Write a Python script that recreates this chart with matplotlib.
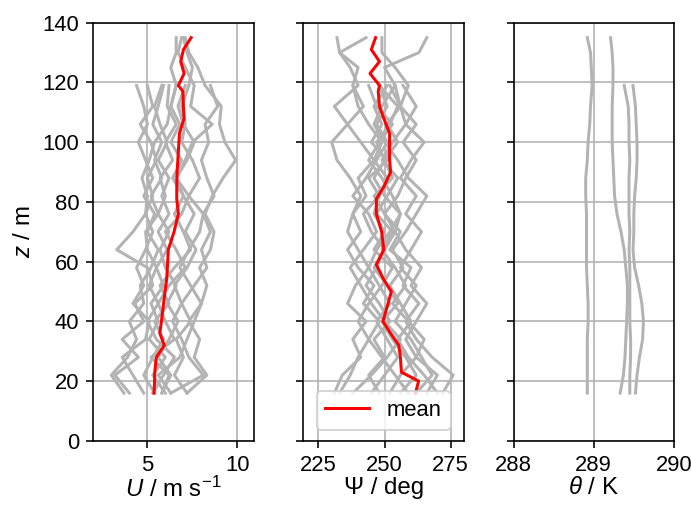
import matplotlib
matplotlib.use("Agg")
import matplotlib.pyplot as plt

plt.rcParams["font.family"] = ["Liberation Sans", "DejaVu Sans"]
plt.rcParams["font.size"] = 11
plt.rcParams["axes.labelsize"] = 12
plt.rcParams["mathtext.fontset"] = "custom"
plt.rcParams["mathtext.rm"] = "Liberation Sans"
plt.rcParams["mathtext.it"] = "Liberation Sans:italic"

# measurement heights (m); short profiles stop at 119 m
Z = [16, 22, 28, 34, 40, 46, 52, 58, 64, 70, 76, 82, 88, 94, 100, 106, 112, 119, 125, 130, 135]

# wind speed profiles (m/s)
U_PROFILES = [
    [7.2, 8.3, 7.6, 7.9, 7.3, 8.0, 8.3, 7.9, 8.5, 8.7, 8.2, 8.6, 9.2, 9.9, 9.3, 9.0, 9.1, 8.2, 7.8, 7.3, 7.1],
    [4.0, 3.2, 4.5, 3.6, 4.8, 4.3, 5.3, 5.0, 3.3, 4.2, 4.9, 5.0, 4.7, 5.1, 5.4, 6.1, 6.3, 6.6, 6.3, 6.6, 6.6],
    [5.8, 6.2, 5.2, 6.5, 6.0, 5.6, 6.2, 7.1, 6.6, 6.0, 6.9, 7.3, 6.6, 7.1, 7.5, 8.6, 7.4, 7.6, 7.1, 6.7, 6.9],
    [6.3, 5.6, 6.8, 7.2, 7.6, 8.0, 7.4, 6.8, 7.3, 7.9, 8.1, 7.3, 7.9, 7.5, 6.9, 7.1, 6.9, 7.3, 7.5, 7.2, 7.0],
    [3.7, 3.0, 3.9, 4.4, 4.0, 4.8, 4.6, 5.2, 5.6, 5.0, 5.4, 4.8, 5.3, 4.9, 4.5, 5.0, 4.8, 4.4],
    [4.8, 4.2, 3.6, 4.9, 5.1, 4.2, 4.8, 4.4, 4.9, 5.3, 4.9, 5.3, 5.0, 5.5, 5.2, 4.6, 5.3, 5.0],
    [5.3, 5.9, 6.5, 5.5, 5.0, 5.6, 5.1, 5.5, 5.0, 4.9, 5.6, 5.2, 5.8, 5.4, 5.8, 5.3, 5.6, 5.9],
    [5.8, 6.3, 5.6, 6.2, 6.7, 6.1, 6.6, 6.0, 5.7, 6.2, 5.6, 6.0, 5.7, 6.4, 6.0, 6.6, 6.1, 6.2],
    [6.3, 8.1, 7.3, 6.9, 6.4, 6.9, 6.5, 7.2, 7.7, 7.1, 7.6, 7.0, 6.6, 7.2, 7.6, 7.0, 6.7, 7.1],
    [7.2, 6.5, 7.0, 6.6, 7.4, 6.9, 7.6, 8.3, 8.0, 8.5, 8.1, 8.7, 8.3, 8.0, 8.4, 8.2, 8.9, 8.5],
    [5.4, 4.8, 5.3, 5.9, 5.4, 6.2, 5.7, 6.5, 7.4, 7.0, 6.5, 7.0, 6.4, 6.9, 6.3, 6.8, 6.3, 6.6],
    [6.0, 5.3, 6.0, 5.1, 5.6, 5.2, 5.9, 5.5, 6.1, 5.6, 6.2, 5.8, 6.2, 5.6, 6.1, 5.7, 5.4, 5.8],
]

# wind direction profiles (deg)
PSI_PROFILES = [
    [272, 276, 268, 262, 258, 263, 257, 260, 252, 256, 250, 255, 258, 262, 257, 262, 256, 254, 250, 263, 266],
    [231, 234, 241, 238, 243, 236, 239, 244, 240, 236, 238, 241, 237, 232, 230, 236, 231, 240, 237, 233, 232],
    [248, 244, 250, 246, 252, 248, 243, 247, 250, 245, 242, 248, 251, 246, 249, 244, 240, 238, 240, 233, 243],
    [256, 262, 258, 253, 249, 255, 251, 246, 250, 254, 250, 246, 253, 250, 255, 251, 256, 259, 254, 249, 249],
    [233, 237, 240, 244, 248, 242, 246, 240, 236, 241, 238, 243, 240, 246, 241, 236, 242, 238],
    [262, 268, 264, 260, 254, 258, 262, 256, 260, 264, 258, 262, 256, 260, 265, 258, 256, 252],
    [245, 250, 255, 251, 247, 252, 248, 244, 247, 252, 256, 250, 246, 250, 247, 252, 255, 248],
    [266, 270, 262, 265, 259, 253, 258, 254, 249, 253, 247, 251, 255, 249, 253, 258, 262, 257],
    [238, 245, 251, 256, 250, 245, 241, 237, 242, 247, 244, 238, 243, 247, 251, 247, 251, 248],
    [270, 265, 259, 255, 260, 256, 252, 257, 253, 258, 262, 266, 259, 255, 250, 246, 249, 254],
    [252, 256, 262, 258, 262, 266, 260, 264, 258, 254, 256, 253, 249, 244, 248, 253, 247, 244],
    [259, 254, 249, 244, 240, 244, 249, 253, 246, 250, 246, 248, 244, 251, 245, 249, 246, 251],
]

# potential temperature profiles (K)
THETA_PROFILES = [
    [288.92, 288.92, 288.92, 288.92, 288.93, 288.93, 288.92, 288.91, 288.91, 288.91, 288.91,
     288.90, 288.90, 288.92, 288.93, 288.95, 288.96, 288.98, 288.97, 288.96, 288.92],
    [289.33, 289.37, 289.39, 289.40, 289.41, 289.42, 289.42, 289.40, 289.38, 289.34, 289.29,
     289.26, 289.25, 289.24, 289.23, 289.23, 289.23, 289.24, 289.24, 289.23, 289.21],
    [289.45, 289.45, 289.46, 289.46, 289.45, 289.45, 289.45, 289.45, 289.44, 289.45, 289.44,
     289.44, 289.44, 289.45, 289.44, 289.44, 289.43, 289.38],
    [289.52, 289.54, 289.57, 289.61, 289.62, 289.60, 289.56, 289.51, 289.49, 289.50, 289.50,
     289.51, 289.53, 289.54, 289.54, 289.53, 289.52, 289.49],
]

# mean profiles
Z_MEAN = [16, 20, 23, 28, 32, 36, 40, 45, 50, 54, 59, 64, 70, 76, 81, 85, 90, 94, 99, 103,
          108, 112, 117, 119, 123, 127, 131, 135]
U_MEAN = [5.37, 5.40, 5.41, 5.50, 5.94, 5.69, 5.78, 5.88, 5.98, 6.07, 6.12, 6.16, 6.48, 6.72,
          6.63, 6.63, 6.65, 6.69, 6.74, 6.78, 7.04, 7.00, 6.97, 6.72, 7.04, 6.85, 7.00, 7.43]
PSI_MEAN = [261.7, 262.9, 256.4, 256.0, 255.4, 252.3, 249.4, 251.0, 252.6, 249.7, 246.9, 249.7,
            248.9, 246.9, 246.9, 249.7, 252.3, 251.9, 251.9, 251.9, 249.7, 248.1, 247.6, 248.1,
            244.5, 248.1, 245.0, 246.6]

GREY = "#b3b3b3"

fig, axes = plt.subplots(1, 3, figsize=(4.8, 3.507), sharey=True)
fig.subplots_adjust(left=0.135, right=0.975, bottom=0.127, top=0.955, wspace=0.31)

ax = axes[0]
for prof in U_PROFILES:
    ax.plot(prof, Z[:len(prof)], color=GREY, lw=1.5)
ax.plot(U_MEAN, Z_MEAN, color="red", lw=1.5)
ax.set_xlim(2.0, 10.9)
ax.set_xticks([5, 10])
ax.set_xlabel("$U$ / m s$^{-1}$", labelpad=0.5)
ax.set_ylabel("$z$ / m")

ax = axes[1]
for prof in PSI_PROFILES:
    ax.plot(prof, Z[:len(prof)], color=GREY, lw=1.5)
ax.plot(PSI_MEAN, Z_MEAN, color="red", lw=1.5, label="mean")
ax.set_xlim(219.3, 280.0)
ax.set_xticks([225, 250, 275])
ax.set_xlabel("Ψ / deg", labelpad=0.5)
ax.legend(loc="lower center")

ax = axes[2]
for prof in THETA_PROFILES:
    ax.plot(prof, Z[:len(prof)], color=GREY, lw=1.5)
ax.set_xlim(288, 290)
ax.set_xticks([288, 289, 290])
ax.set_xlabel(r"$\theta$ / K", labelpad=0.5)

for ax in axes:
    ax.grid(True)
axes[0].set_ylim(0, 140)
axes[0].set_yticks(range(0, 141, 20))

fig.savefig("out.png", dpi=144)
